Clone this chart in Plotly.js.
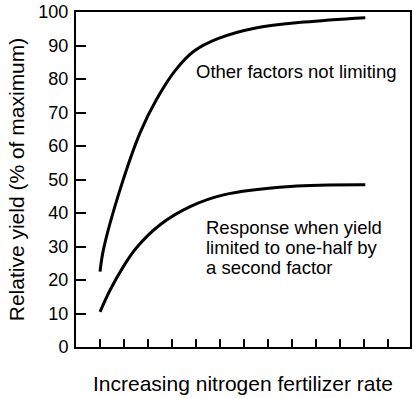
<!DOCTYPE html>
<html><head><meta charset="utf-8">
<script src="https://cdn.plot.ly/plotly-3.0.1.min.js"></script>
<style>html,body{margin:0;padding:0;background:#fff}</style>
</head><body><div id="chart" style="width:414px;height:398px"></div>
<script>
const upperX = [1, 1.14, 1.83, 2.67, 3.36, 4.125, 4.89, 5.93, 7.53, 9.5, 12.04];
const upperY = [22.5, 29, 46.9, 64, 74, 82.5, 88.2, 92.1, 95.3, 97.0, 98.3];
const lowerX = [1, 1.42, 1.97, 2.5, 3.5, 4.75, 6.14, 8.92, 12.04];
const lowerY = [10.5, 17, 24, 29.5, 36.5, 41.9, 45.4, 47.9, 48.4];
const xTicks = [1,2,3,4,5,6,7,8,9,10,11,12,13];
const yTicks = [0,10,20,30,40,50,60,70,80,90,100];
const labelUpper = "Other factors not limiting";
const labelLowerLines = ["Response when yield", "limited to one-half by", "a second factor"];

const font = {family: "Liberation Sans, Arial, sans-serif", color: "#000"};
const lineStyle = {color: "#000", width: 3, shape: "spline", smoothing: 1};

const annotations = [
  {x: 4.9, y: 82.1, xref: "x", yref: "y", text: labelUpper, showarrow: false,
   xanchor: "left", yanchor: "middle", font: Object.assign({size: 18.5}, font)}
];
labelLowerLines.forEach((t, i) => {
  annotations.push({x: 5.33, y: 35.8 - i * 5.97, xref: "x", yref: "y", text: t, showarrow: false,
    xanchor: "left", yanchor: "middle", font: Object.assign({size: 18.5}, font)});
});

Plotly.newPlot("chart", [
  {x: upperX, y: upperY, mode: "lines", line: lineStyle, hoverinfo: "skip"},
  {x: lowerX, y: lowerY, mode: "lines", line: lineStyle, hoverinfo: "skip"}
], {
  width: 414, height: 398,
  margin: {l: 76, r: 4, t: 12, b: 51},
  paper_bgcolor: "#fff", plot_bgcolor: "#fff",
  showlegend: false,
  font: Object.assign({size: 18}, font),
  xaxis: {
    range: [0, 13.9], tickvals: xTicks, showticklabels: false,
    ticks: "inside", ticklen: 8, tickwidth: 2, tickcolor: "#000",
    showline: true, linewidth: 2, linecolor: "#000", mirror: true,
    showgrid: false, zeroline: false, fixedrange: true,
    title: {text: "Increasing nitrogen fertilizer rate", font: Object.assign({size: 21}, font), standoff: 28}
  },
  yaxis: {
    range: [0, 100], tickvals: yTicks,
    ticks: "inside", ticklen: 10, tickwidth: 2, tickcolor: "#000",
    showline: true, linewidth: 2, linecolor: "#000", mirror: true,
    showgrid: false, zeroline: false, fixedrange: true,
    ticklabelstandoff: 2,
    tickfont: Object.assign({size: 18}, font),
    title: {text: "Relative yield (% of maximum)", font: Object.assign({size: 21}, font), standoff: 8}
  },
  annotations: annotations
}, {staticPlot: true, displayModeBar: false});
</script></body></html>
